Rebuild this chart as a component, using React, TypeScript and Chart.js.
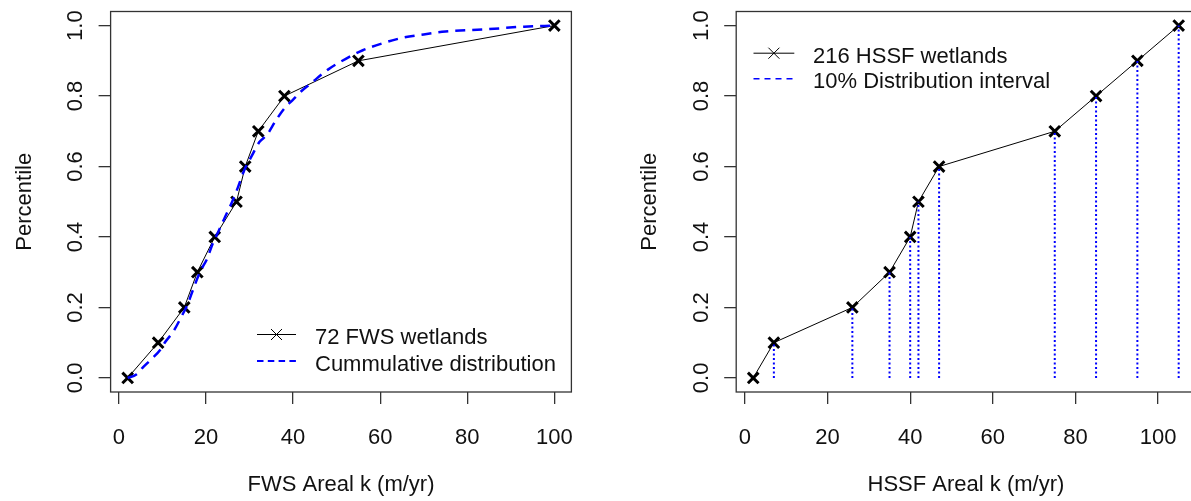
import React, { useEffect, useRef } from "react";
import { Chart, registerables } from "chart.js";

Chart.register(...registerables);

// ---------- data ----------
const FWS_K = [2, 9, 15, 18, 22, 27, 29, 32, 38, 55, 100];
const FWS_PCT = [0, 0.1, 0.2, 0.3, 0.4, 0.5, 0.6, 0.7, 0.8, 0.9, 1.0];

const CDF_K = [2, 4, 5.5, 7.6, 9.5, 10.5, 12.4, 14.4, 15.8, 17, 18.6, 20.3, 21.5, 23, 24.5, 26, 27.3, 28.8, 30.5, 32.3, 34, 36, 38, 40, 42, 44, 48, 52, 56, 60.6, 65, 70, 75, 85, 93, 100];
const CDF_PCT = [0, 0.01, 0.03, 0.055, 0.08, 0.1, 0.13, 0.175, 0.21, 0.25, 0.3, 0.34, 0.38, 0.42, 0.46, 0.5, 0.54, 0.59, 0.63, 0.67, 0.69, 0.73, 0.765, 0.79, 0.815, 0.835, 0.875, 0.905, 0.93, 0.95, 0.965, 0.975, 0.983, 0.99, 0.997, 1.0];

const HSSF_K = [2, 7, 26, 35, 40, 42, 47, 75, 85, 95, 105];
const HSSF_PCT = [0, 0.1, 0.2, 0.3, 0.4, 0.5, 0.6, 0.7, 0.8, 0.9, 1.0];

const X_TICKS = [0, 20, 40, 60, 80, 100];
const X_TICK_LABELS = ["0", "20", "40", "60", "80", "100"];
const Y_TICKS = [0, 0.2, 0.4, 0.6, 0.8, 1.0];
const Y_TICK_LABELS = ["0.0", "0.2", "0.4", "0.6", "0.8", "1.0"];

const FWS_LEGEND = ["72 FWS wetlands", "Cummulative distribution"];
const HSSF_LEGEND = ["216 HSSF wetlands", "10% Distribution interval"];
const X_TITLES = ["FWS Areal k (m/yr)", "HSSF Areal k (m/yr)"];
const Y_TITLE = "Percentile";

// ---------- style ----------
const FONT = '22px "Liberation Sans", Arial, sans-serif';
const INK = "#111";
const AXIS = "#333";
const BLUE = "#0000ff";
const HEIGHT = 501;

const pts = (xs: number[], ys: number[]) => xs.map((x, i) => ({ x, y: ys[i] }));
const rRange = (lo: number, hi: number) => {
  const d = (hi - lo) * 0.04;
  return [lo - d, hi + d];
};
const dropLines = (xs: number[], ys: number[]) => {
  const out: any[] = [];
  xs.forEach((x, i) => {
    if (ys[i] > 0) {
      out.push({ x, y: 0 }, { x, y: ys[i] }, { x, y: null });
    }
  });
  return out;
};

const rStyle = {
  id: "rStyle",
  afterDraw(chart: any, _args: any, o: any) {
    const { ctx, chartArea: a } = chart;
    const xs = chart.scales.x;
    const ys = chart.scales.y;
    ctx.save();
    ctx.strokeStyle = AXIS;
    ctx.lineWidth = 1.3;
    ctx.strokeRect(a.left, a.top, a.right - a.left, a.bottom - a.top);

    ctx.fillStyle = INK;
    ctx.font = FONT;
    ctx.textAlign = "center";
    ctx.textBaseline = "alphabetic";
    X_TICKS.forEach((v, i) => {
      ctx.fillText(X_TICK_LABELS[i], xs.getPixelForValue(v), o.xTickBase);
    });
    ctx.fillText(o.xTitle, (a.left + a.right) / 2, o.xTitleBase);

    Y_TICKS.forEach((v, i) => {
      ctx.save();
      ctx.translate(a.left - o.yTickGap, ys.getPixelForValue(v));
      ctx.rotate(-Math.PI / 2);
      ctx.fillText(Y_TICK_LABELS[i], 0, 0);
      ctx.restore();
    });
    ctx.save();
    ctx.translate(a.left - o.yTitleGap, (a.top + a.bottom) / 2);
    ctx.rotate(-Math.PI / 2);
    ctx.fillText(Y_TITLE, 0, 0);
    ctx.restore();

    ctx.textAlign = "left";
    o.legend.forEach((it: any, i: number) => {
      const base = o.legendBase[i];
      const ly = base - 9.5;
      ctx.save();
      ctx.strokeStyle = it.color;
      ctx.lineWidth = it.width;
      ctx.setLineDash(it.dash || []);
      ctx.beginPath();
      ctx.moveTo(o.sampleX0, ly);
      ctx.lineTo(o.sampleX1, ly);
      ctx.stroke();
      ctx.setLineDash([]);
      if (it.marker) {
        const cx = (o.sampleX0 + o.sampleX1) / 2;
        const r = 5.5;
        ctx.beginPath();
        ctx.moveTo(cx - r, ly - r);
        ctx.lineTo(cx + r, ly + r);
        ctx.moveTo(cx + r, ly - r);
        ctx.lineTo(cx - r, ly + r);
        ctx.stroke();
      }
      ctx.restore();
      ctx.fillText(it.label, o.textX, base);
    });
    ctx.restore();
  },
};

function makeConfig(p: any) {
  const [yMin, yMax] = rRange(0, 1);
  return {
    type: "line",
    data: { datasets: p.datasets },
    plugins: [rStyle],
    options: {
      animation: false,
      responsive: false,
      devicePixelRatio: 1,
      events: [],
      layout: {
        autoPadding: false,
        padding: { top: 11.5, right: p.padRight, left: 0, bottom: 0 },
      },
      plugins: {
        legend: { display: false },
        tooltip: { enabled: false },
        rStyle: p.rStyle,
      },
      scales: {
        x: {
          type: "linear",
          min: p.xMin,
          max: p.xMax,
          afterBuildTicks: (s: any) => {
            s.ticks = X_TICKS.map((v) => ({ value: v }));
          },
          afterFit: (s: any) => {
            s.height = HEIGHT - 392;
          },
          grid: { drawOnChartArea: false, drawTicks: true, tickLength: 12, color: AXIS, lineWidth: 1.3 },
          border: { display: false },
          ticks: { display: false },
        },
        y: {
          type: "linear",
          min: yMin,
          max: yMax,
          afterBuildTicks: (s: any) => {
            s.ticks = Y_TICKS.map((v) => ({ value: v }));
          },
          afterFit: (s: any) => {
            s.width = p.yWidth;
          },
          grid: { drawOnChartArea: false, drawTicks: true, tickLength: 12, color: AXIS, lineWidth: 1.3 },
          border: { display: false },
          ticks: { display: false },
        },
      },
    },
  };
}

const markerSeries = (label: string, xs: number[], ys: number[]) => ({
  label,
  data: pts(xs, ys),
  borderColor: "#000",
  borderWidth: 1,
  pointStyle: "crossRot",
  pointRadius: 7.5,
  pointBorderWidth: 3,
  pointBorderColor: "#000",
  pointBackgroundColor: "#000",
  tension: 0,
  order: 1,
});

function leftConfig() {
  const [xMin, xMax] = rRange(2, 100);
  return makeConfig({
    xMin,
    xMax,
    yWidth: 110.6,
    padRight: 596 - 571.4,
    datasets: [
      {
        label: FWS_LEGEND[1],
        data: pts(CDF_K, CDF_PCT),
        borderColor: BLUE,
        borderWidth: 2.5,
        borderDash: [10, 7],
        pointRadius: 0,
        cubicInterpolationMode: "monotone",
        order: 0,
      },
      markerSeries(FWS_LEGEND[0], FWS_K, FWS_PCT),
    ],
    rStyle: {
      xTitle: X_TITLES[0],
      xTickBase: 443.5,
      xTitleBase: 491,
      yTickGap: 28.6,
      yTitleGap: 80,
      sampleX0: 257,
      sampleX1: 296,
      textX: 315,
      legendBase: [344, 370.5],
      legend: [
        { label: FWS_LEGEND[0], color: "#000", width: 1, marker: true },
        { label: FWS_LEGEND[1], color: BLUE, width: 2, dash: [6.5, 4.3] },
      ],
    },
  });
}

function rightConfig() {
  const [xMin, xMax] = rRange(2, 105);
  return makeConfig({
    xMin,
    xMax,
    yWidth: 140.2,
    padRight: 610 - 599.7,
    datasets: [
      {
        label: HSSF_LEGEND[1],
        data: dropLines(HSSF_K, HSSF_PCT),
        borderColor: BLUE,
        borderWidth: 2,
        borderDash: [2, 2.5],
        pointRadius: 0,
        spanGaps: false,
        order: 0,
      },
      markerSeries(HSSF_LEGEND[0], HSSF_K, HSSF_PCT),
    ],
    rStyle: {
      xTitle: X_TITLES[1],
      xTickBase: 443.5,
      xTitleBase: 491,
      yTickGap: 28.6,
      yTitleGap: 80,
      sampleX0: 157.5,
      sampleX1: 198.3,
      textX: 217,
      legendBase: [62.7, 88.3],
      legend: [
        { label: HSSF_LEGEND[0], color: "#000", width: 1, marker: true },
        { label: HSSF_LEGEND[1], color: BLUE, width: 1.5, dash: [6, 5] },
      ],
    },
  });
}

function RChart({ left, width, build }: { left: number; width: number; build: () => any }) {
  const ref = useRef<HTMLCanvasElement>(null);
  useEffect(() => {
    const chart = new Chart(ref.current as HTMLCanvasElement, build());
    return () => chart.destroy();
  }, []);
  return (
    <canvas
      ref={ref}
      width={width}
      height={HEIGHT}
      style={{ position: "absolute", left, top: 0, width, height: HEIGHT, display: "block" }}
    />
  );
}

export default function App() {
  return (
    <div
      style={{
        position: "absolute",
        left: 0,
        top: 0,
        width: 1191,
        height: HEIGHT,
        overflow: "hidden",
        background: "#fff",
      }}
    >
      <RChart left={0} width={596} build={leftConfig} />
      <RChart left={596} width={610} build={rightConfig} />
    </div>
  );
}
